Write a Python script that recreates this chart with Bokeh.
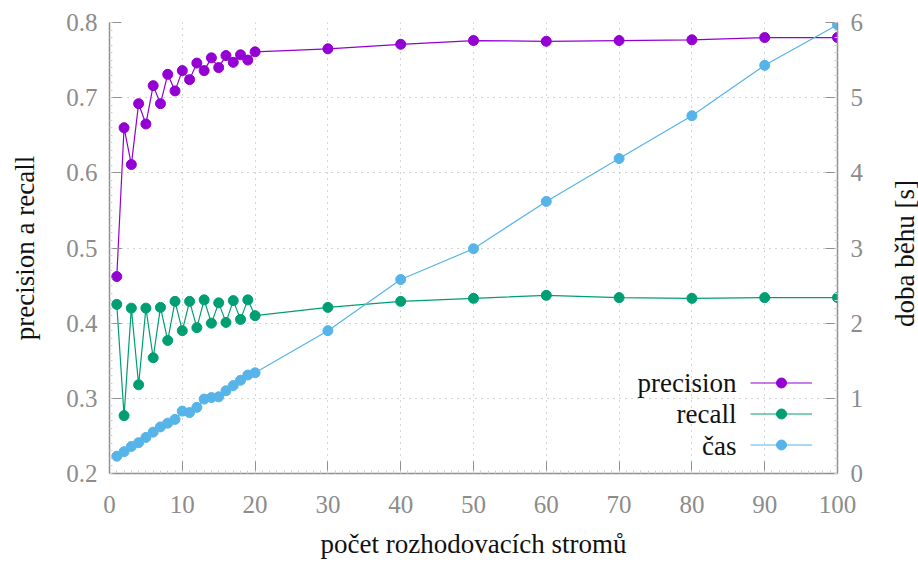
import math
from bokeh.plotting import figure
from bokeh.models import (Range1d, LinearAxis, SingleIntervalTicker, Legend, LegendItem, Label)
from bokeh.embed import file_html
from bokeh.resources import INLINE

# data
trees = [1, 2, 3, 4, 5, 6, 7, 8, 9, 10, 11, 12, 13, 14, 15, 16, 17, 18, 19, 20,
         30, 40, 50, 60, 70, 80, 90, 100]
precision = [0.462, 0.660, 0.611, 0.692, 0.665, 0.716, 0.692, 0.731, 0.709, 0.736,
             0.724, 0.746, 0.736, 0.753, 0.740, 0.756, 0.747, 0.757, 0.750, 0.761,
             0.765, 0.771, 0.776, 0.775, 0.776, 0.777, 0.780, 0.780]
recall = [0.425, 0.277, 0.420, 0.318, 0.420, 0.354, 0.421, 0.377, 0.429, 0.390,
          0.429, 0.394, 0.431, 0.400, 0.427, 0.401, 0.430, 0.405, 0.431, 0.410,
          0.421, 0.429, 0.433, 0.437, 0.434, 0.433, 0.434, 0.434]
runtime = [0.23, 0.29, 0.36, 0.41, 0.48, 0.55, 0.62, 0.67, 0.72, 0.83,
           0.81, 0.88, 0.99, 1.01, 1.02, 1.10, 1.17, 1.24, 1.31, 1.34,
           1.90, 2.58, 2.99, 3.62, 4.19, 4.76, 5.43, 5.97]
series_names = ["precision", "recall", "čas"]
colors = ["#9400D3", "#009E73", "#56B4E9"]
right_label = "doba běhu [s]"

FONT = "Liberation Serif, Times New Roman, DejaVu Serif, serif"
FS = "25px"
LFS = "27px"
TICK_COLOR = "#8c8c8c"
AXIS_COLOR = "#909090"

p = figure(width=918, height=563, output_backend="svg", toolbar_location=None,
           x_range=Range1d(0, 100), y_range=Range1d(0.2, 0.8),
           min_border_left=109, min_border_right=81, min_border_top=22, min_border_bottom=90)
p.outline_line_color = None
p.extra_y_ranges = {"time": Range1d(0, 6)}

p.xaxis.ticker = SingleIntervalTicker(interval=10, num_minor_ticks=10)
p.yaxis.ticker = SingleIntervalTicker(interval=0.1, num_minor_ticks=10)
p.xaxis.axis_label = "počet rozhodovacích stromů"
p.yaxis.axis_label = "precision a recall"

raxis = LinearAxis(y_range_name="time", ticker=SingleIntervalTicker(interval=1, num_minor_ticks=10))
p.add_layout(raxis, "right")

for ax in [p.xaxis[0], p.yaxis[0], raxis]:
    ax.major_tick_in = 12
    ax.major_tick_out = 0
    ax.minor_tick_in = 3
    ax.minor_tick_out = 0
    ax.major_tick_line_color = AXIS_COLOR
    ax.minor_tick_line_color = "#d0d0d0"
    ax.axis_line_color = AXIS_COLOR
    ax.axis_line_width = 1.5
    ax.major_label_text_font = FONT
    ax.major_label_text_font_size = FS
    ax.major_label_text_color = TICK_COLOR
    ax.axis_label_text_font = FONT
    ax.axis_label_text_font_size = LFS
    ax.axis_label_text_font_style = "normal"
    ax.axis_label_text_color = "#111111"

p.yaxis[0].major_label_standoff = 12
p.yaxis[0].axis_label_standoff = 23
raxis.major_label_standoff = 13
p.xaxis[0].major_label_standoff = 22
p.xaxis[0].axis_label_standoff = 13

for g in [p.xgrid[0], p.ygrid[0]]:
    g.grid_line_color = "#a8a8a8"
    g.grid_line_dash = "1 5"
    g.grid_line_width = 1

renderers = []
for vals, col, rng in [(precision, colors[0], "default"), (recall, colors[1], "default"),
                       (runtime, colors[2], "time")]:
    l = p.line(trees, vals, line_color=col, line_width=1.2, y_range_name=rng)
    s = p.scatter(trees, vals, size=10, fill_color=col, line_color=col, y_range_name=rng)
    renderers.append([l, s])

legend = Legend(items=[LegendItem(label=" ", renderers=r) for r in renderers],
                location=(641, 16), glyph_width=62, glyph_height=25, label_height=25,
                label_width=1, spacing=6, padding=0, margin=0,
                border_line_color=None, background_fill_alpha=0,
                label_text_font_size="4px")
p.add_layout(legend, "center")

for name, y in zip(series_names, [91, 60, 28]):
    p.add_layout(Label(x=627, y=y, x_units="screen", y_units="screen", text=name,
                       text_align="right", text_baseline="middle",
                       text_font=FONT, text_font_size=LFS, text_color="#111111"))

# right axis title, reading bottom to top, placed in the right side panel
p.add_layout(Label(x=38, y=220, x_units="screen", y_units="screen", text=right_label,
                   angle=math.pi / 2, text_align="center", text_baseline="middle",
                   text_font=FONT, text_font_size=LFS, text_color="#111111"), "right")

open("out.html", "w").write(file_html(p, INLINE))
